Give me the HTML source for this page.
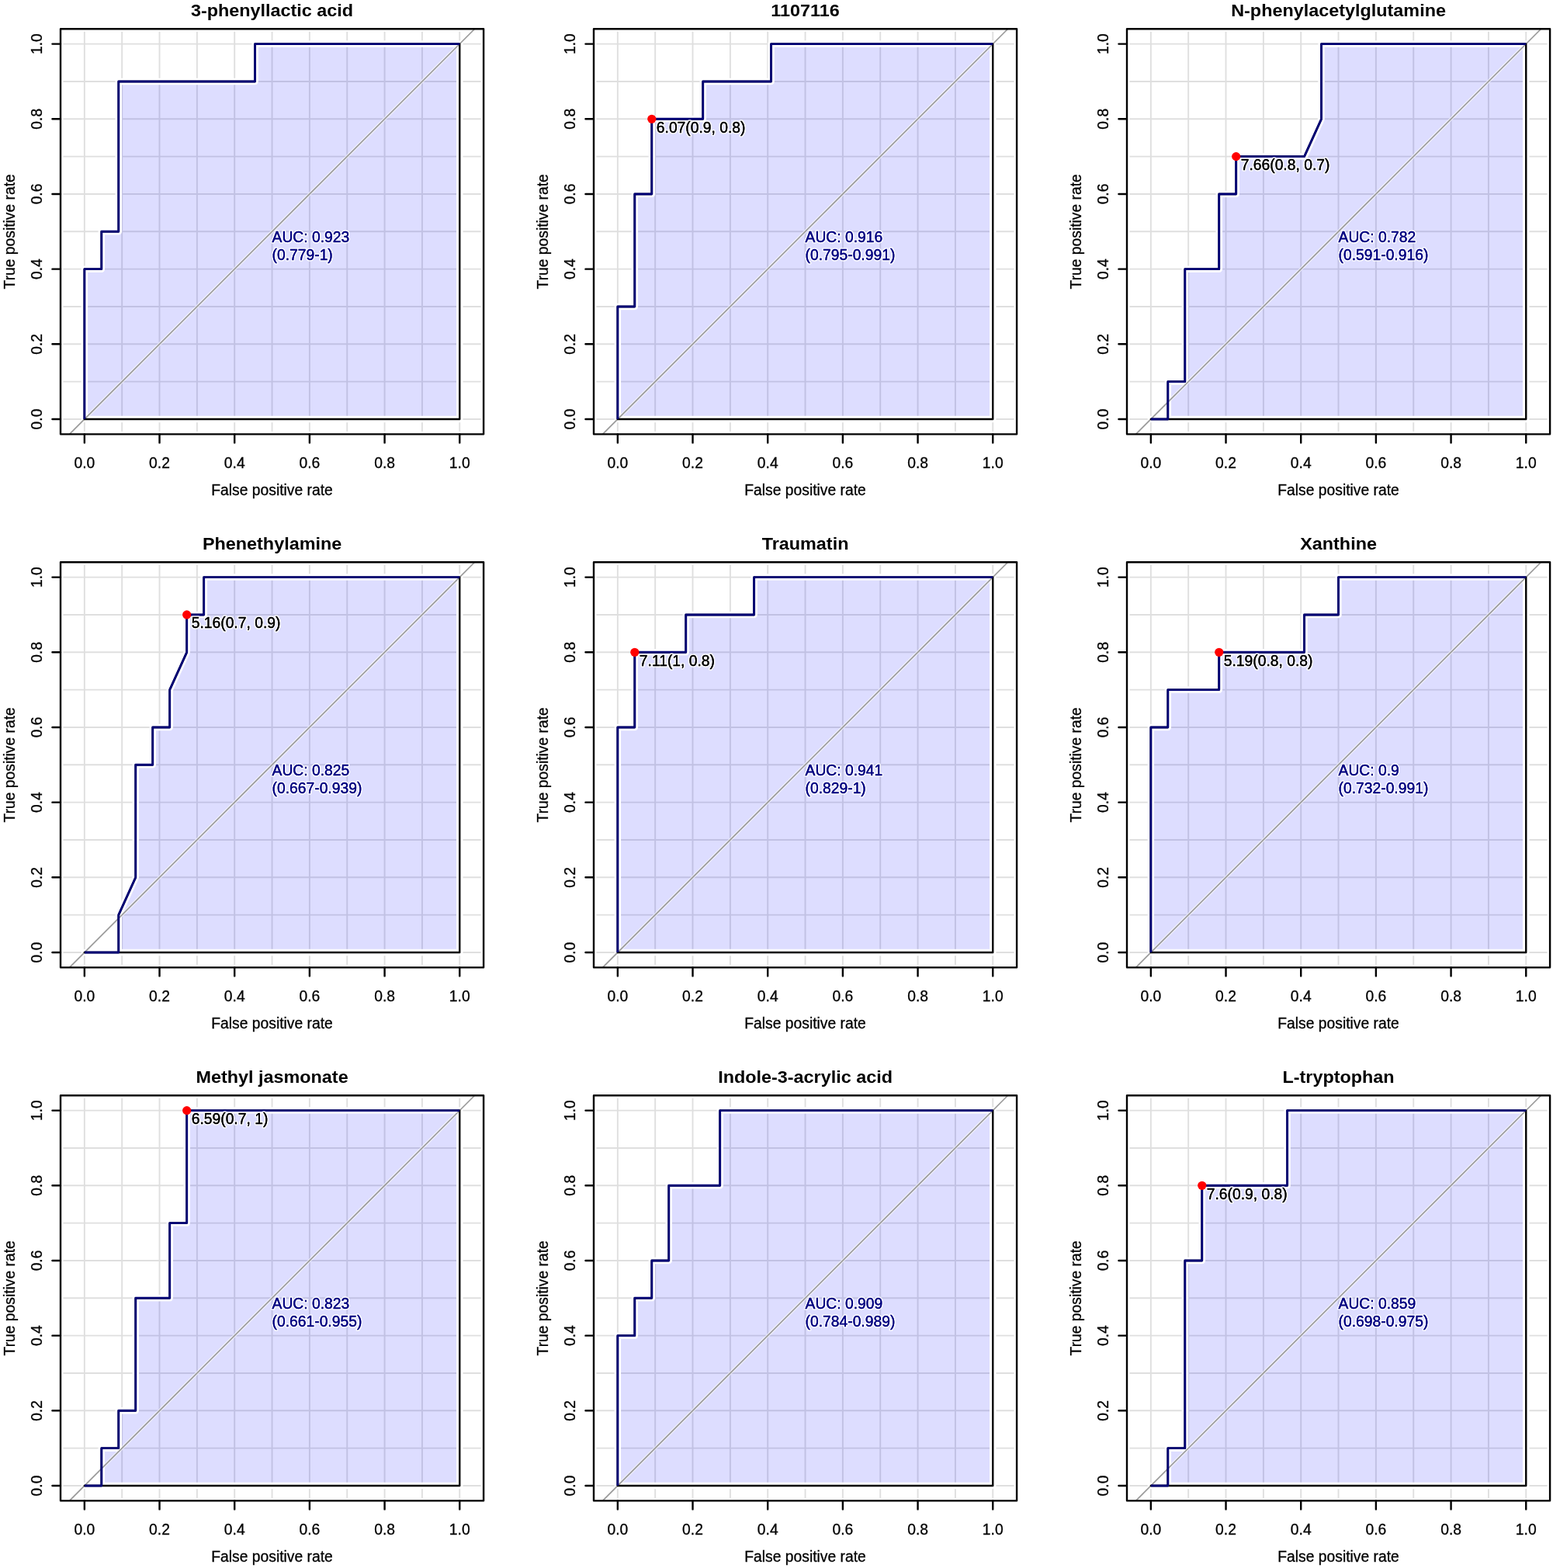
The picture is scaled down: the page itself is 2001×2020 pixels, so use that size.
<!DOCTYPE html><html><head><meta charset="utf-8"><title>ROC curves</title><style>html,body{margin:0;padding:0;background:#fff;}svg{display:block;}text{font-family:"Liberation Sans",Arial,sans-serif;stroke:#000;stroke-width:0.3px;}.n{fill:#000080;stroke:#000080;}.h{paint-order:stroke;stroke:rgba(255,255,255,0.85);stroke-width:3.5px;stroke-linejoin:round;}</style></head><body>
<svg width="2001" height="2020" viewBox="0 0 2001 2020">
<rect width="2001" height="2020" fill="#fff"/>
<g>
<path d="M108.85 37.26V559.34M78.01 540H623.09M157.19 37.26V559.34M78.01 491.66H623.09M205.53 37.26V559.34M78.01 443.32H623.09M253.87 37.26V559.34M78.01 394.98H623.09M302.21 37.26V559.34M78.01 346.64H623.09M350.55 37.26V559.34M78.01 298.3H623.09M398.89 37.26V559.34M78.01 249.96H623.09M447.23 37.26V559.34M78.01 201.62H623.09M495.57 37.26V559.34M78.01 153.28H623.09M543.91 37.26V559.34M78.01 104.94H623.09M592.25 37.26V559.34M78.01 56.6H623.09" stroke="#dfdfdf" stroke-width="1.9" fill="none"/>
<path d="M108.85 540 L108.85 346.64 L130.82 346.64 L130.82 298.3 L152.8 298.3 L152.8 104.94 L328.58 104.94 L328.58 56.6 L592.25 56.6 L592.25 540Z" fill="rgba(0,0,255,0.135)" stroke="none"/>
<path d="M108.85 540 L108.85 346.64 L130.82 346.64 L130.82 298.3 L152.8 298.3 L152.8 104.94 L328.58 104.94 L328.58 56.6 L592.25 56.6 L592.25 540Z" fill="none" stroke="#fff" stroke-width="8.5" stroke-linejoin="round"/>
<rect x="78.01" y="37.26" width="545.08" height="522.07" fill="none" stroke="#fff" stroke-width="7"/>
<line x1="89.51" y1="559.34" x2="611.59" y2="37.26" stroke="#fff" stroke-width="4" opacity="0.6"/>
<line x1="89.51" y1="559.34" x2="611.59" y2="37.26" stroke="#999" stroke-width="1.7"/>
<path d="M108.85 540 L108.85 346.64 L130.82 346.64 L130.82 298.3 L152.8 298.3 L152.8 104.94 L328.58 104.94 L328.58 56.6 L592.25 56.6 L592.25 540Z" fill="none" stroke="#000" stroke-width="2.4" stroke-linejoin="round"/>
<path d="M108.85 540 L108.85 346.64 L130.82 346.64 L130.82 298.3 L152.8 298.3 L152.8 104.94 L328.58 104.94 L328.58 56.6 L592.25 56.6" fill="none" stroke="#000074" stroke-width="2.9" stroke-linejoin="round"/>
<rect x="78.01" y="37.26" width="545.08" height="522.07" fill="none" stroke="#000" stroke-width="2.4" stroke-linejoin="round"/>
<path d="M108.85 559.34V570.4M78.01 540H67.45M205.53 559.34V570.4M78.01 443.32H67.45M302.21 559.34V570.4M78.01 346.64H67.45M398.89 559.34V570.4M78.01 249.96H67.45M495.57 559.34V570.4M78.01 153.28H67.45M592.25 559.34V570.4M78.01 56.6H67.45" stroke="#000" stroke-width="2.4" fill="none" stroke-linecap="round"/>
<text x="108.85" y="602.9" font-size="19.3" text-anchor="middle">0.0</text>
<text transform="translate(53.5 540) rotate(-90)" font-size="19.3" text-anchor="middle">0.0</text>
<text x="205.53" y="602.9" font-size="19.3" text-anchor="middle">0.2</text>
<text transform="translate(53.5 443.32) rotate(-90)" font-size="19.3" text-anchor="middle">0.2</text>
<text x="302.21" y="602.9" font-size="19.3" text-anchor="middle">0.4</text>
<text transform="translate(53.5 346.64) rotate(-90)" font-size="19.3" text-anchor="middle">0.4</text>
<text x="398.89" y="602.9" font-size="19.3" text-anchor="middle">0.6</text>
<text transform="translate(53.5 249.96) rotate(-90)" font-size="19.3" text-anchor="middle">0.6</text>
<text x="495.57" y="602.9" font-size="19.3" text-anchor="middle">0.8</text>
<text transform="translate(53.5 153.28) rotate(-90)" font-size="19.3" text-anchor="middle">0.8</text>
<text x="592.25" y="602.9" font-size="19.3" text-anchor="middle">1.0</text>
<text transform="translate(53.5 56.6) rotate(-90)" font-size="19.3" text-anchor="middle">1.0</text>
<text x="350.55" y="637.5" font-size="19.3" text-anchor="middle">False positive rate</text>
<text transform="translate(19.1 298.3) rotate(-90)" font-size="19.3" text-anchor="middle">True positive rate</text>
<text transform="translate(350.55 21.1) scale(1 0.93)" font-size="23.4" font-weight="bold" text-anchor="middle" style="stroke-width:0">3-phenyllactic acid</text>
<text class="h" x="350.55" y="312" font-size="19.3" fill="#000080">AUC: 0.923</text>
<text class="n" x="350.55" y="312" font-size="19.3">AUC: 0.923</text>
<text class="h" x="350.55" y="334.8" font-size="19.3" fill="#000080">(0.779-1)</text>
<text class="n" x="350.55" y="334.8" font-size="19.3">(0.779-1)</text>
</g>
<g>
<path d="M795.85 37.26V559.34M765.01 540H1310.09M844.19 37.26V559.34M765.01 491.66H1310.09M892.53 37.26V559.34M765.01 443.32H1310.09M940.87 37.26V559.34M765.01 394.98H1310.09M989.21 37.26V559.34M765.01 346.64H1310.09M1037.55 37.26V559.34M765.01 298.3H1310.09M1085.89 37.26V559.34M765.01 249.96H1310.09M1134.23 37.26V559.34M765.01 201.62H1310.09M1182.57 37.26V559.34M765.01 153.28H1310.09M1230.91 37.26V559.34M765.01 104.94H1310.09M1279.25 37.26V559.34M765.01 56.6H1310.09" stroke="#dfdfdf" stroke-width="1.9" fill="none"/>
<path d="M795.85 540 L795.85 394.98 L817.82 394.98 L817.82 249.96 L839.8 249.96 L839.8 153.28 L905.71 153.28 L905.71 104.94 L993.6 104.94 L993.6 56.6 L1279.25 56.6 L1279.25 540Z" fill="rgba(0,0,255,0.135)" stroke="none"/>
<path d="M795.85 540 L795.85 394.98 L817.82 394.98 L817.82 249.96 L839.8 249.96 L839.8 153.28 L905.71 153.28 L905.71 104.94 L993.6 104.94 L993.6 56.6 L1279.25 56.6 L1279.25 540Z" fill="none" stroke="#fff" stroke-width="8.5" stroke-linejoin="round"/>
<rect x="765.01" y="37.26" width="545.08" height="522.07" fill="none" stroke="#fff" stroke-width="7"/>
<line x1="776.51" y1="559.34" x2="1298.59" y2="37.26" stroke="#fff" stroke-width="4" opacity="0.6"/>
<line x1="776.51" y1="559.34" x2="1298.59" y2="37.26" stroke="#999" stroke-width="1.7"/>
<path d="M795.85 540 L795.85 394.98 L817.82 394.98 L817.82 249.96 L839.8 249.96 L839.8 153.28 L905.71 153.28 L905.71 104.94 L993.6 104.94 L993.6 56.6 L1279.25 56.6 L1279.25 540Z" fill="none" stroke="#000" stroke-width="2.4" stroke-linejoin="round"/>
<path d="M795.85 540 L795.85 394.98 L817.82 394.98 L817.82 249.96 L839.8 249.96 L839.8 153.28 L905.71 153.28 L905.71 104.94 L993.6 104.94 L993.6 56.6 L1279.25 56.6" fill="none" stroke="#000074" stroke-width="2.9" stroke-linejoin="round"/>
<rect x="765.01" y="37.26" width="545.08" height="522.07" fill="none" stroke="#000" stroke-width="2.4" stroke-linejoin="round"/>
<path d="M795.85 559.34V570.4M765.01 540H754.45M892.53 559.34V570.4M765.01 443.32H754.45M989.21 559.34V570.4M765.01 346.64H754.45M1085.89 559.34V570.4M765.01 249.96H754.45M1182.57 559.34V570.4M765.01 153.28H754.45M1279.25 559.34V570.4M765.01 56.6H754.45" stroke="#000" stroke-width="2.4" fill="none" stroke-linecap="round"/>
<text x="795.85" y="602.9" font-size="19.3" text-anchor="middle">0.0</text>
<text transform="translate(740.5 540) rotate(-90)" font-size="19.3" text-anchor="middle">0.0</text>
<text x="892.53" y="602.9" font-size="19.3" text-anchor="middle">0.2</text>
<text transform="translate(740.5 443.32) rotate(-90)" font-size="19.3" text-anchor="middle">0.2</text>
<text x="989.21" y="602.9" font-size="19.3" text-anchor="middle">0.4</text>
<text transform="translate(740.5 346.64) rotate(-90)" font-size="19.3" text-anchor="middle">0.4</text>
<text x="1085.89" y="602.9" font-size="19.3" text-anchor="middle">0.6</text>
<text transform="translate(740.5 249.96) rotate(-90)" font-size="19.3" text-anchor="middle">0.6</text>
<text x="1182.57" y="602.9" font-size="19.3" text-anchor="middle">0.8</text>
<text transform="translate(740.5 153.28) rotate(-90)" font-size="19.3" text-anchor="middle">0.8</text>
<text x="1279.25" y="602.9" font-size="19.3" text-anchor="middle">1.0</text>
<text transform="translate(740.5 56.6) rotate(-90)" font-size="19.3" text-anchor="middle">1.0</text>
<text x="1037.55" y="637.5" font-size="19.3" text-anchor="middle">False positive rate</text>
<text transform="translate(706.1 298.3) rotate(-90)" font-size="19.3" text-anchor="middle">True positive rate</text>
<text transform="translate(1037.55 21.1) scale(1 0.93)" font-size="23.4" font-weight="bold" text-anchor="middle" style="stroke-width:0">1107116</text>
<text class="h" x="1037.55" y="312" font-size="19.3" fill="#000080">AUC: 0.916</text>
<text class="n" x="1037.55" y="312" font-size="19.3">AUC: 0.916</text>
<text class="h" x="1037.55" y="334.8" font-size="19.3" fill="#000080">(0.795-0.991)</text>
<text class="n" x="1037.55" y="334.8" font-size="19.3">(0.795-0.991)</text>
<circle cx="839.8" cy="153.28" r="5.6" fill="#f00"/>
<text class="h" x="845.8" y="170.68" font-size="19.3">6.07(0.9, 0.8)</text>
<text x="845.8" y="170.68" font-size="19.3">6.07(0.9, 0.8)</text>
</g>
<g>
<path d="M1482.85 37.26V559.34M1452.01 540H1997.09M1531.19 37.26V559.34M1452.01 491.66H1997.09M1579.53 37.26V559.34M1452.01 443.32H1997.09M1627.87 37.26V559.34M1452.01 394.98H1997.09M1676.21 37.26V559.34M1452.01 346.64H1997.09M1724.55 37.26V559.34M1452.01 298.3H1997.09M1772.89 37.26V559.34M1452.01 249.96H1997.09M1821.23 37.26V559.34M1452.01 201.62H1997.09M1869.57 37.26V559.34M1452.01 153.28H1997.09M1917.91 37.26V559.34M1452.01 104.94H1997.09M1966.25 37.26V559.34M1452.01 56.6H1997.09" stroke="#dfdfdf" stroke-width="1.9" fill="none"/>
<path d="M1482.85 540 L1504.82 540 L1504.82 491.66 L1526.8 491.66 L1526.8 346.64 L1570.74 346.64 L1570.74 249.96 L1592.71 249.96 L1592.71 201.62 L1680.6 201.62 L1702.58 153.28 L1702.58 56.6 L1966.25 56.6 L1966.25 540Z" fill="rgba(0,0,255,0.135)" stroke="none"/>
<path d="M1482.85 540 L1504.82 540 L1504.82 491.66 L1526.8 491.66 L1526.8 346.64 L1570.74 346.64 L1570.74 249.96 L1592.71 249.96 L1592.71 201.62 L1680.6 201.62 L1702.58 153.28 L1702.58 56.6 L1966.25 56.6 L1966.25 540Z" fill="none" stroke="#fff" stroke-width="8.5" stroke-linejoin="round"/>
<rect x="1452.01" y="37.26" width="545.08" height="522.07" fill="none" stroke="#fff" stroke-width="7"/>
<line x1="1463.51" y1="559.34" x2="1985.59" y2="37.26" stroke="#fff" stroke-width="4" opacity="0.6"/>
<line x1="1463.51" y1="559.34" x2="1985.59" y2="37.26" stroke="#999" stroke-width="1.7"/>
<path d="M1482.85 540 L1504.82 540 L1504.82 491.66 L1526.8 491.66 L1526.8 346.64 L1570.74 346.64 L1570.74 249.96 L1592.71 249.96 L1592.71 201.62 L1680.6 201.62 L1702.58 153.28 L1702.58 56.6 L1966.25 56.6 L1966.25 540Z" fill="none" stroke="#000" stroke-width="2.4" stroke-linejoin="round"/>
<path d="M1482.85 540 L1504.82 540 L1504.82 491.66 L1526.8 491.66 L1526.8 346.64 L1570.74 346.64 L1570.74 249.96 L1592.71 249.96 L1592.71 201.62 L1680.6 201.62 L1702.58 153.28 L1702.58 56.6 L1966.25 56.6" fill="none" stroke="#000074" stroke-width="2.9" stroke-linejoin="round"/>
<rect x="1452.01" y="37.26" width="545.08" height="522.07" fill="none" stroke="#000" stroke-width="2.4" stroke-linejoin="round"/>
<path d="M1482.85 559.34V570.4M1452.01 540H1441.45M1579.53 559.34V570.4M1452.01 443.32H1441.45M1676.21 559.34V570.4M1452.01 346.64H1441.45M1772.89 559.34V570.4M1452.01 249.96H1441.45M1869.57 559.34V570.4M1452.01 153.28H1441.45M1966.25 559.34V570.4M1452.01 56.6H1441.45" stroke="#000" stroke-width="2.4" fill="none" stroke-linecap="round"/>
<text x="1482.85" y="602.9" font-size="19.3" text-anchor="middle">0.0</text>
<text transform="translate(1427.5 540) rotate(-90)" font-size="19.3" text-anchor="middle">0.0</text>
<text x="1579.53" y="602.9" font-size="19.3" text-anchor="middle">0.2</text>
<text transform="translate(1427.5 443.32) rotate(-90)" font-size="19.3" text-anchor="middle">0.2</text>
<text x="1676.21" y="602.9" font-size="19.3" text-anchor="middle">0.4</text>
<text transform="translate(1427.5 346.64) rotate(-90)" font-size="19.3" text-anchor="middle">0.4</text>
<text x="1772.89" y="602.9" font-size="19.3" text-anchor="middle">0.6</text>
<text transform="translate(1427.5 249.96) rotate(-90)" font-size="19.3" text-anchor="middle">0.6</text>
<text x="1869.57" y="602.9" font-size="19.3" text-anchor="middle">0.8</text>
<text transform="translate(1427.5 153.28) rotate(-90)" font-size="19.3" text-anchor="middle">0.8</text>
<text x="1966.25" y="602.9" font-size="19.3" text-anchor="middle">1.0</text>
<text transform="translate(1427.5 56.6) rotate(-90)" font-size="19.3" text-anchor="middle">1.0</text>
<text x="1724.55" y="637.5" font-size="19.3" text-anchor="middle">False positive rate</text>
<text transform="translate(1393.1 298.3) rotate(-90)" font-size="19.3" text-anchor="middle">True positive rate</text>
<text transform="translate(1724.55 21.1) scale(1 0.93)" font-size="23.4" font-weight="bold" text-anchor="middle" style="stroke-width:0">N-phenylacetylglutamine</text>
<text class="h" x="1724.55" y="312" font-size="19.3" fill="#000080">AUC: 0.782</text>
<text class="n" x="1724.55" y="312" font-size="19.3">AUC: 0.782</text>
<text class="h" x="1724.55" y="334.8" font-size="19.3" fill="#000080">(0.591-0.916)</text>
<text class="n" x="1724.55" y="334.8" font-size="19.3">(0.591-0.916)</text>
<circle cx="1592.71" cy="201.62" r="5.6" fill="#f00"/>
<text class="h" x="1598.71" y="219.02" font-size="19.3">7.66(0.8, 0.7)</text>
<text x="1598.71" y="219.02" font-size="19.3">7.66(0.8, 0.7)</text>
</g>
<g>
<path d="M108.85 724.26V1246.34M78.01 1227H623.09M157.19 724.26V1246.34M78.01 1178.66H623.09M205.53 724.26V1246.34M78.01 1130.32H623.09M253.87 724.26V1246.34M78.01 1081.98H623.09M302.21 724.26V1246.34M78.01 1033.64H623.09M350.55 724.26V1246.34M78.01 985.3H623.09M398.89 724.26V1246.34M78.01 936.96H623.09M447.23 724.26V1246.34M78.01 888.62H623.09M495.57 724.26V1246.34M78.01 840.28H623.09M543.91 724.26V1246.34M78.01 791.94H623.09M592.25 724.26V1246.34M78.01 743.6H623.09" stroke="#dfdfdf" stroke-width="1.9" fill="none"/>
<path d="M108.85 1227 L152.8 1227 L152.8 1178.66 L174.77 1130.32 L174.77 985.3 L196.74 985.3 L196.74 936.96 L218.71 936.96 L218.71 888.62 L240.69 840.28 L240.69 791.94 L262.66 791.94 L262.66 743.6 L592.25 743.6 L592.25 1227Z" fill="rgba(0,0,255,0.135)" stroke="none"/>
<path d="M108.85 1227 L152.8 1227 L152.8 1178.66 L174.77 1130.32 L174.77 985.3 L196.74 985.3 L196.74 936.96 L218.71 936.96 L218.71 888.62 L240.69 840.28 L240.69 791.94 L262.66 791.94 L262.66 743.6 L592.25 743.6 L592.25 1227Z" fill="none" stroke="#fff" stroke-width="8.5" stroke-linejoin="round"/>
<rect x="78.01" y="724.26" width="545.08" height="522.07" fill="none" stroke="#fff" stroke-width="7"/>
<line x1="89.51" y1="1246.34" x2="611.59" y2="724.26" stroke="#fff" stroke-width="4" opacity="0.6"/>
<line x1="89.51" y1="1246.34" x2="611.59" y2="724.26" stroke="#999" stroke-width="1.7"/>
<path d="M108.85 1227 L152.8 1227 L152.8 1178.66 L174.77 1130.32 L174.77 985.3 L196.74 985.3 L196.74 936.96 L218.71 936.96 L218.71 888.62 L240.69 840.28 L240.69 791.94 L262.66 791.94 L262.66 743.6 L592.25 743.6 L592.25 1227Z" fill="none" stroke="#000" stroke-width="2.4" stroke-linejoin="round"/>
<path d="M108.85 1227 L152.8 1227 L152.8 1178.66 L174.77 1130.32 L174.77 985.3 L196.74 985.3 L196.74 936.96 L218.71 936.96 L218.71 888.62 L240.69 840.28 L240.69 791.94 L262.66 791.94 L262.66 743.6 L592.25 743.6" fill="none" stroke="#000074" stroke-width="2.9" stroke-linejoin="round"/>
<rect x="78.01" y="724.26" width="545.08" height="522.07" fill="none" stroke="#000" stroke-width="2.4" stroke-linejoin="round"/>
<path d="M108.85 1246.34V1257.4M78.01 1227H67.45M205.53 1246.34V1257.4M78.01 1130.32H67.45M302.21 1246.34V1257.4M78.01 1033.64H67.45M398.89 1246.34V1257.4M78.01 936.96H67.45M495.57 1246.34V1257.4M78.01 840.28H67.45M592.25 1246.34V1257.4M78.01 743.6H67.45" stroke="#000" stroke-width="2.4" fill="none" stroke-linecap="round"/>
<text x="108.85" y="1289.9" font-size="19.3" text-anchor="middle">0.0</text>
<text transform="translate(53.5 1227) rotate(-90)" font-size="19.3" text-anchor="middle">0.0</text>
<text x="205.53" y="1289.9" font-size="19.3" text-anchor="middle">0.2</text>
<text transform="translate(53.5 1130.32) rotate(-90)" font-size="19.3" text-anchor="middle">0.2</text>
<text x="302.21" y="1289.9" font-size="19.3" text-anchor="middle">0.4</text>
<text transform="translate(53.5 1033.64) rotate(-90)" font-size="19.3" text-anchor="middle">0.4</text>
<text x="398.89" y="1289.9" font-size="19.3" text-anchor="middle">0.6</text>
<text transform="translate(53.5 936.96) rotate(-90)" font-size="19.3" text-anchor="middle">0.6</text>
<text x="495.57" y="1289.9" font-size="19.3" text-anchor="middle">0.8</text>
<text transform="translate(53.5 840.28) rotate(-90)" font-size="19.3" text-anchor="middle">0.8</text>
<text x="592.25" y="1289.9" font-size="19.3" text-anchor="middle">1.0</text>
<text transform="translate(53.5 743.6) rotate(-90)" font-size="19.3" text-anchor="middle">1.0</text>
<text x="350.55" y="1324.5" font-size="19.3" text-anchor="middle">False positive rate</text>
<text transform="translate(19.1 985.3) rotate(-90)" font-size="19.3" text-anchor="middle">True positive rate</text>
<text transform="translate(350.55 708.1) scale(1 0.93)" font-size="23.4" font-weight="bold" text-anchor="middle" style="stroke-width:0">Phenethylamine</text>
<text class="h" x="350.55" y="999" font-size="19.3" fill="#000080">AUC: 0.825</text>
<text class="n" x="350.55" y="999" font-size="19.3">AUC: 0.825</text>
<text class="h" x="350.55" y="1021.8" font-size="19.3" fill="#000080">(0.667-0.939)</text>
<text class="n" x="350.55" y="1021.8" font-size="19.3">(0.667-0.939)</text>
<circle cx="240.69" cy="791.94" r="5.6" fill="#f00"/>
<text class="h" x="246.69" y="809.34" font-size="19.3">5.16(0.7, 0.9)</text>
<text x="246.69" y="809.34" font-size="19.3">5.16(0.7, 0.9)</text>
</g>
<g>
<path d="M795.85 724.26V1246.34M765.01 1227H1310.09M844.19 724.26V1246.34M765.01 1178.66H1310.09M892.53 724.26V1246.34M765.01 1130.32H1310.09M940.87 724.26V1246.34M765.01 1081.98H1310.09M989.21 724.26V1246.34M765.01 1033.64H1310.09M1037.55 724.26V1246.34M765.01 985.3H1310.09M1085.89 724.26V1246.34M765.01 936.96H1310.09M1134.23 724.26V1246.34M765.01 888.62H1310.09M1182.57 724.26V1246.34M765.01 840.28H1310.09M1230.91 724.26V1246.34M765.01 791.94H1310.09M1279.25 724.26V1246.34M765.01 743.6H1310.09" stroke="#dfdfdf" stroke-width="1.9" fill="none"/>
<path d="M795.85 1227 L795.85 936.96 L817.82 936.96 L817.82 840.28 L883.74 840.28 L883.74 791.94 L971.63 791.94 L971.63 743.6 L1279.25 743.6 L1279.25 1227Z" fill="rgba(0,0,255,0.135)" stroke="none"/>
<path d="M795.85 1227 L795.85 936.96 L817.82 936.96 L817.82 840.28 L883.74 840.28 L883.74 791.94 L971.63 791.94 L971.63 743.6 L1279.25 743.6 L1279.25 1227Z" fill="none" stroke="#fff" stroke-width="8.5" stroke-linejoin="round"/>
<rect x="765.01" y="724.26" width="545.08" height="522.07" fill="none" stroke="#fff" stroke-width="7"/>
<line x1="776.51" y1="1246.34" x2="1298.59" y2="724.26" stroke="#fff" stroke-width="4" opacity="0.6"/>
<line x1="776.51" y1="1246.34" x2="1298.59" y2="724.26" stroke="#999" stroke-width="1.7"/>
<path d="M795.85 1227 L795.85 936.96 L817.82 936.96 L817.82 840.28 L883.74 840.28 L883.74 791.94 L971.63 791.94 L971.63 743.6 L1279.25 743.6 L1279.25 1227Z" fill="none" stroke="#000" stroke-width="2.4" stroke-linejoin="round"/>
<path d="M795.85 1227 L795.85 936.96 L817.82 936.96 L817.82 840.28 L883.74 840.28 L883.74 791.94 L971.63 791.94 L971.63 743.6 L1279.25 743.6" fill="none" stroke="#000074" stroke-width="2.9" stroke-linejoin="round"/>
<rect x="765.01" y="724.26" width="545.08" height="522.07" fill="none" stroke="#000" stroke-width="2.4" stroke-linejoin="round"/>
<path d="M795.85 1246.34V1257.4M765.01 1227H754.45M892.53 1246.34V1257.4M765.01 1130.32H754.45M989.21 1246.34V1257.4M765.01 1033.64H754.45M1085.89 1246.34V1257.4M765.01 936.96H754.45M1182.57 1246.34V1257.4M765.01 840.28H754.45M1279.25 1246.34V1257.4M765.01 743.6H754.45" stroke="#000" stroke-width="2.4" fill="none" stroke-linecap="round"/>
<text x="795.85" y="1289.9" font-size="19.3" text-anchor="middle">0.0</text>
<text transform="translate(740.5 1227) rotate(-90)" font-size="19.3" text-anchor="middle">0.0</text>
<text x="892.53" y="1289.9" font-size="19.3" text-anchor="middle">0.2</text>
<text transform="translate(740.5 1130.32) rotate(-90)" font-size="19.3" text-anchor="middle">0.2</text>
<text x="989.21" y="1289.9" font-size="19.3" text-anchor="middle">0.4</text>
<text transform="translate(740.5 1033.64) rotate(-90)" font-size="19.3" text-anchor="middle">0.4</text>
<text x="1085.89" y="1289.9" font-size="19.3" text-anchor="middle">0.6</text>
<text transform="translate(740.5 936.96) rotate(-90)" font-size="19.3" text-anchor="middle">0.6</text>
<text x="1182.57" y="1289.9" font-size="19.3" text-anchor="middle">0.8</text>
<text transform="translate(740.5 840.28) rotate(-90)" font-size="19.3" text-anchor="middle">0.8</text>
<text x="1279.25" y="1289.9" font-size="19.3" text-anchor="middle">1.0</text>
<text transform="translate(740.5 743.6) rotate(-90)" font-size="19.3" text-anchor="middle">1.0</text>
<text x="1037.55" y="1324.5" font-size="19.3" text-anchor="middle">False positive rate</text>
<text transform="translate(706.1 985.3) rotate(-90)" font-size="19.3" text-anchor="middle">True positive rate</text>
<text transform="translate(1037.55 708.1) scale(1 0.93)" font-size="23.4" font-weight="bold" text-anchor="middle" style="stroke-width:0">Traumatin</text>
<text class="h" x="1037.55" y="999" font-size="19.3" fill="#000080">AUC: 0.941</text>
<text class="n" x="1037.55" y="999" font-size="19.3">AUC: 0.941</text>
<text class="h" x="1037.55" y="1021.8" font-size="19.3" fill="#000080">(0.829-1)</text>
<text class="n" x="1037.55" y="1021.8" font-size="19.3">(0.829-1)</text>
<circle cx="817.82" cy="840.28" r="5.6" fill="#f00"/>
<text class="h" x="823.82" y="857.68" font-size="19.3">7.11(1, 0.8)</text>
<text x="823.82" y="857.68" font-size="19.3">7.11(1, 0.8)</text>
</g>
<g>
<path d="M1482.85 724.26V1246.34M1452.01 1227H1997.09M1531.19 724.26V1246.34M1452.01 1178.66H1997.09M1579.53 724.26V1246.34M1452.01 1130.32H1997.09M1627.87 724.26V1246.34M1452.01 1081.98H1997.09M1676.21 724.26V1246.34M1452.01 1033.64H1997.09M1724.55 724.26V1246.34M1452.01 985.3H1997.09M1772.89 724.26V1246.34M1452.01 936.96H1997.09M1821.23 724.26V1246.34M1452.01 888.62H1997.09M1869.57 724.26V1246.34M1452.01 840.28H1997.09M1917.91 724.26V1246.34M1452.01 791.94H1997.09M1966.25 724.26V1246.34M1452.01 743.6H1997.09" stroke="#dfdfdf" stroke-width="1.9" fill="none"/>
<path d="M1482.85 1227 L1482.85 936.96 L1504.82 936.96 L1504.82 888.62 L1570.74 888.62 L1570.74 840.28 L1680.6 840.28 L1680.6 791.94 L1724.55 791.94 L1724.55 743.6 L1966.25 743.6 L1966.25 1227Z" fill="rgba(0,0,255,0.135)" stroke="none"/>
<path d="M1482.85 1227 L1482.85 936.96 L1504.82 936.96 L1504.82 888.62 L1570.74 888.62 L1570.74 840.28 L1680.6 840.28 L1680.6 791.94 L1724.55 791.94 L1724.55 743.6 L1966.25 743.6 L1966.25 1227Z" fill="none" stroke="#fff" stroke-width="8.5" stroke-linejoin="round"/>
<rect x="1452.01" y="724.26" width="545.08" height="522.07" fill="none" stroke="#fff" stroke-width="7"/>
<line x1="1463.51" y1="1246.34" x2="1985.59" y2="724.26" stroke="#fff" stroke-width="4" opacity="0.6"/>
<line x1="1463.51" y1="1246.34" x2="1985.59" y2="724.26" stroke="#999" stroke-width="1.7"/>
<path d="M1482.85 1227 L1482.85 936.96 L1504.82 936.96 L1504.82 888.62 L1570.74 888.62 L1570.74 840.28 L1680.6 840.28 L1680.6 791.94 L1724.55 791.94 L1724.55 743.6 L1966.25 743.6 L1966.25 1227Z" fill="none" stroke="#000" stroke-width="2.4" stroke-linejoin="round"/>
<path d="M1482.85 1227 L1482.85 936.96 L1504.82 936.96 L1504.82 888.62 L1570.74 888.62 L1570.74 840.28 L1680.6 840.28 L1680.6 791.94 L1724.55 791.94 L1724.55 743.6 L1966.25 743.6" fill="none" stroke="#000074" stroke-width="2.9" stroke-linejoin="round"/>
<rect x="1452.01" y="724.26" width="545.08" height="522.07" fill="none" stroke="#000" stroke-width="2.4" stroke-linejoin="round"/>
<path d="M1482.85 1246.34V1257.4M1452.01 1227H1441.45M1579.53 1246.34V1257.4M1452.01 1130.32H1441.45M1676.21 1246.34V1257.4M1452.01 1033.64H1441.45M1772.89 1246.34V1257.4M1452.01 936.96H1441.45M1869.57 1246.34V1257.4M1452.01 840.28H1441.45M1966.25 1246.34V1257.4M1452.01 743.6H1441.45" stroke="#000" stroke-width="2.4" fill="none" stroke-linecap="round"/>
<text x="1482.85" y="1289.9" font-size="19.3" text-anchor="middle">0.0</text>
<text transform="translate(1427.5 1227) rotate(-90)" font-size="19.3" text-anchor="middle">0.0</text>
<text x="1579.53" y="1289.9" font-size="19.3" text-anchor="middle">0.2</text>
<text transform="translate(1427.5 1130.32) rotate(-90)" font-size="19.3" text-anchor="middle">0.2</text>
<text x="1676.21" y="1289.9" font-size="19.3" text-anchor="middle">0.4</text>
<text transform="translate(1427.5 1033.64) rotate(-90)" font-size="19.3" text-anchor="middle">0.4</text>
<text x="1772.89" y="1289.9" font-size="19.3" text-anchor="middle">0.6</text>
<text transform="translate(1427.5 936.96) rotate(-90)" font-size="19.3" text-anchor="middle">0.6</text>
<text x="1869.57" y="1289.9" font-size="19.3" text-anchor="middle">0.8</text>
<text transform="translate(1427.5 840.28) rotate(-90)" font-size="19.3" text-anchor="middle">0.8</text>
<text x="1966.25" y="1289.9" font-size="19.3" text-anchor="middle">1.0</text>
<text transform="translate(1427.5 743.6) rotate(-90)" font-size="19.3" text-anchor="middle">1.0</text>
<text x="1724.55" y="1324.5" font-size="19.3" text-anchor="middle">False positive rate</text>
<text transform="translate(1393.1 985.3) rotate(-90)" font-size="19.3" text-anchor="middle">True positive rate</text>
<text transform="translate(1724.55 708.1) scale(1 0.93)" font-size="23.4" font-weight="bold" text-anchor="middle" style="stroke-width:0">Xanthine</text>
<text class="h" x="1724.55" y="999" font-size="19.3" fill="#000080">AUC: 0.9</text>
<text class="n" x="1724.55" y="999" font-size="19.3">AUC: 0.9</text>
<text class="h" x="1724.55" y="1021.8" font-size="19.3" fill="#000080">(0.732-0.991)</text>
<text class="n" x="1724.55" y="1021.8" font-size="19.3">(0.732-0.991)</text>
<circle cx="1570.74" cy="840.28" r="5.6" fill="#f00"/>
<text class="h" x="1576.74" y="857.68" font-size="19.3">5.19(0.8, 0.8)</text>
<text x="1576.74" y="857.68" font-size="19.3">5.19(0.8, 0.8)</text>
</g>
<g>
<path d="M108.85 1411.26V1933.34M78.01 1914H623.09M157.19 1411.26V1933.34M78.01 1865.66H623.09M205.53 1411.26V1933.34M78.01 1817.32H623.09M253.87 1411.26V1933.34M78.01 1768.98H623.09M302.21 1411.26V1933.34M78.01 1720.64H623.09M350.55 1411.26V1933.34M78.01 1672.3H623.09M398.89 1411.26V1933.34M78.01 1623.96H623.09M447.23 1411.26V1933.34M78.01 1575.62H623.09M495.57 1411.26V1933.34M78.01 1527.28H623.09M543.91 1411.26V1933.34M78.01 1478.94H623.09M592.25 1411.26V1933.34M78.01 1430.6H623.09" stroke="#dfdfdf" stroke-width="1.9" fill="none"/>
<path d="M108.85 1914 L130.82 1914 L130.82 1865.66 L152.8 1865.66 L152.8 1817.32 L174.77 1817.32 L174.77 1672.3 L218.71 1672.3 L218.71 1575.62 L240.69 1575.62 L240.69 1430.6 L592.25 1430.6 L592.25 1914Z" fill="rgba(0,0,255,0.135)" stroke="none"/>
<path d="M108.85 1914 L130.82 1914 L130.82 1865.66 L152.8 1865.66 L152.8 1817.32 L174.77 1817.32 L174.77 1672.3 L218.71 1672.3 L218.71 1575.62 L240.69 1575.62 L240.69 1430.6 L592.25 1430.6 L592.25 1914Z" fill="none" stroke="#fff" stroke-width="8.5" stroke-linejoin="round"/>
<rect x="78.01" y="1411.26" width="545.08" height="522.07" fill="none" stroke="#fff" stroke-width="7"/>
<line x1="89.51" y1="1933.34" x2="611.59" y2="1411.26" stroke="#fff" stroke-width="4" opacity="0.6"/>
<line x1="89.51" y1="1933.34" x2="611.59" y2="1411.26" stroke="#999" stroke-width="1.7"/>
<path d="M108.85 1914 L130.82 1914 L130.82 1865.66 L152.8 1865.66 L152.8 1817.32 L174.77 1817.32 L174.77 1672.3 L218.71 1672.3 L218.71 1575.62 L240.69 1575.62 L240.69 1430.6 L592.25 1430.6 L592.25 1914Z" fill="none" stroke="#000" stroke-width="2.4" stroke-linejoin="round"/>
<path d="M108.85 1914 L130.82 1914 L130.82 1865.66 L152.8 1865.66 L152.8 1817.32 L174.77 1817.32 L174.77 1672.3 L218.71 1672.3 L218.71 1575.62 L240.69 1575.62 L240.69 1430.6 L592.25 1430.6" fill="none" stroke="#000074" stroke-width="2.9" stroke-linejoin="round"/>
<rect x="78.01" y="1411.26" width="545.08" height="522.07" fill="none" stroke="#000" stroke-width="2.4" stroke-linejoin="round"/>
<path d="M108.85 1933.34V1944.4M78.01 1914H67.45M205.53 1933.34V1944.4M78.01 1817.32H67.45M302.21 1933.34V1944.4M78.01 1720.64H67.45M398.89 1933.34V1944.4M78.01 1623.96H67.45M495.57 1933.34V1944.4M78.01 1527.28H67.45M592.25 1933.34V1944.4M78.01 1430.6H67.45" stroke="#000" stroke-width="2.4" fill="none" stroke-linecap="round"/>
<text x="108.85" y="1976.9" font-size="19.3" text-anchor="middle">0.0</text>
<text transform="translate(53.5 1914) rotate(-90)" font-size="19.3" text-anchor="middle">0.0</text>
<text x="205.53" y="1976.9" font-size="19.3" text-anchor="middle">0.2</text>
<text transform="translate(53.5 1817.32) rotate(-90)" font-size="19.3" text-anchor="middle">0.2</text>
<text x="302.21" y="1976.9" font-size="19.3" text-anchor="middle">0.4</text>
<text transform="translate(53.5 1720.64) rotate(-90)" font-size="19.3" text-anchor="middle">0.4</text>
<text x="398.89" y="1976.9" font-size="19.3" text-anchor="middle">0.6</text>
<text transform="translate(53.5 1623.96) rotate(-90)" font-size="19.3" text-anchor="middle">0.6</text>
<text x="495.57" y="1976.9" font-size="19.3" text-anchor="middle">0.8</text>
<text transform="translate(53.5 1527.28) rotate(-90)" font-size="19.3" text-anchor="middle">0.8</text>
<text x="592.25" y="1976.9" font-size="19.3" text-anchor="middle">1.0</text>
<text transform="translate(53.5 1430.6) rotate(-90)" font-size="19.3" text-anchor="middle">1.0</text>
<text x="350.55" y="2011.5" font-size="19.3" text-anchor="middle">False positive rate</text>
<text transform="translate(19.1 1672.3) rotate(-90)" font-size="19.3" text-anchor="middle">True positive rate</text>
<text transform="translate(350.55 1395.1) scale(1 0.93)" font-size="23.4" font-weight="bold" text-anchor="middle" style="stroke-width:0">Methyl jasmonate</text>
<text class="h" x="350.55" y="1686" font-size="19.3" fill="#000080">AUC: 0.823</text>
<text class="n" x="350.55" y="1686" font-size="19.3">AUC: 0.823</text>
<text class="h" x="350.55" y="1708.8" font-size="19.3" fill="#000080">(0.661-0.955)</text>
<text class="n" x="350.55" y="1708.8" font-size="19.3">(0.661-0.955)</text>
<circle cx="240.69" cy="1430.6" r="5.6" fill="#f00"/>
<text class="h" x="246.69" y="1448" font-size="19.3">6.59(0.7, 1)</text>
<text x="246.69" y="1448" font-size="19.3">6.59(0.7, 1)</text>
</g>
<g>
<path d="M795.85 1411.26V1933.34M765.01 1914H1310.09M844.19 1411.26V1933.34M765.01 1865.66H1310.09M892.53 1411.26V1933.34M765.01 1817.32H1310.09M940.87 1411.26V1933.34M765.01 1768.98H1310.09M989.21 1411.26V1933.34M765.01 1720.64H1310.09M1037.55 1411.26V1933.34M765.01 1672.3H1310.09M1085.89 1411.26V1933.34M765.01 1623.96H1310.09M1134.23 1411.26V1933.34M765.01 1575.62H1310.09M1182.57 1411.26V1933.34M765.01 1527.28H1310.09M1230.91 1411.26V1933.34M765.01 1478.94H1310.09M1279.25 1411.26V1933.34M765.01 1430.6H1310.09" stroke="#dfdfdf" stroke-width="1.9" fill="none"/>
<path d="M795.85 1914 L795.85 1720.64 L817.82 1720.64 L817.82 1672.3 L839.8 1672.3 L839.8 1623.96 L861.77 1623.96 L861.77 1527.28 L927.69 1527.28 L927.69 1430.6 L1279.25 1430.6 L1279.25 1914Z" fill="rgba(0,0,255,0.135)" stroke="none"/>
<path d="M795.85 1914 L795.85 1720.64 L817.82 1720.64 L817.82 1672.3 L839.8 1672.3 L839.8 1623.96 L861.77 1623.96 L861.77 1527.28 L927.69 1527.28 L927.69 1430.6 L1279.25 1430.6 L1279.25 1914Z" fill="none" stroke="#fff" stroke-width="8.5" stroke-linejoin="round"/>
<rect x="765.01" y="1411.26" width="545.08" height="522.07" fill="none" stroke="#fff" stroke-width="7"/>
<line x1="776.51" y1="1933.34" x2="1298.59" y2="1411.26" stroke="#fff" stroke-width="4" opacity="0.6"/>
<line x1="776.51" y1="1933.34" x2="1298.59" y2="1411.26" stroke="#999" stroke-width="1.7"/>
<path d="M795.85 1914 L795.85 1720.64 L817.82 1720.64 L817.82 1672.3 L839.8 1672.3 L839.8 1623.96 L861.77 1623.96 L861.77 1527.28 L927.69 1527.28 L927.69 1430.6 L1279.25 1430.6 L1279.25 1914Z" fill="none" stroke="#000" stroke-width="2.4" stroke-linejoin="round"/>
<path d="M795.85 1914 L795.85 1720.64 L817.82 1720.64 L817.82 1672.3 L839.8 1672.3 L839.8 1623.96 L861.77 1623.96 L861.77 1527.28 L927.69 1527.28 L927.69 1430.6 L1279.25 1430.6" fill="none" stroke="#000074" stroke-width="2.9" stroke-linejoin="round"/>
<rect x="765.01" y="1411.26" width="545.08" height="522.07" fill="none" stroke="#000" stroke-width="2.4" stroke-linejoin="round"/>
<path d="M795.85 1933.34V1944.4M765.01 1914H754.45M892.53 1933.34V1944.4M765.01 1817.32H754.45M989.21 1933.34V1944.4M765.01 1720.64H754.45M1085.89 1933.34V1944.4M765.01 1623.96H754.45M1182.57 1933.34V1944.4M765.01 1527.28H754.45M1279.25 1933.34V1944.4M765.01 1430.6H754.45" stroke="#000" stroke-width="2.4" fill="none" stroke-linecap="round"/>
<text x="795.85" y="1976.9" font-size="19.3" text-anchor="middle">0.0</text>
<text transform="translate(740.5 1914) rotate(-90)" font-size="19.3" text-anchor="middle">0.0</text>
<text x="892.53" y="1976.9" font-size="19.3" text-anchor="middle">0.2</text>
<text transform="translate(740.5 1817.32) rotate(-90)" font-size="19.3" text-anchor="middle">0.2</text>
<text x="989.21" y="1976.9" font-size="19.3" text-anchor="middle">0.4</text>
<text transform="translate(740.5 1720.64) rotate(-90)" font-size="19.3" text-anchor="middle">0.4</text>
<text x="1085.89" y="1976.9" font-size="19.3" text-anchor="middle">0.6</text>
<text transform="translate(740.5 1623.96) rotate(-90)" font-size="19.3" text-anchor="middle">0.6</text>
<text x="1182.57" y="1976.9" font-size="19.3" text-anchor="middle">0.8</text>
<text transform="translate(740.5 1527.28) rotate(-90)" font-size="19.3" text-anchor="middle">0.8</text>
<text x="1279.25" y="1976.9" font-size="19.3" text-anchor="middle">1.0</text>
<text transform="translate(740.5 1430.6) rotate(-90)" font-size="19.3" text-anchor="middle">1.0</text>
<text x="1037.55" y="2011.5" font-size="19.3" text-anchor="middle">False positive rate</text>
<text transform="translate(706.1 1672.3) rotate(-90)" font-size="19.3" text-anchor="middle">True positive rate</text>
<text transform="translate(1037.55 1395.1) scale(1 0.93)" font-size="23.4" font-weight="bold" text-anchor="middle" style="stroke-width:0">Indole-3-acrylic acid</text>
<text class="h" x="1037.55" y="1686" font-size="19.3" fill="#000080">AUC: 0.909</text>
<text class="n" x="1037.55" y="1686" font-size="19.3">AUC: 0.909</text>
<text class="h" x="1037.55" y="1708.8" font-size="19.3" fill="#000080">(0.784-0.989)</text>
<text class="n" x="1037.55" y="1708.8" font-size="19.3">(0.784-0.989)</text>
</g>
<g>
<path d="M1482.85 1411.26V1933.34M1452.01 1914H1997.09M1531.19 1411.26V1933.34M1452.01 1865.66H1997.09M1579.53 1411.26V1933.34M1452.01 1817.32H1997.09M1627.87 1411.26V1933.34M1452.01 1768.98H1997.09M1676.21 1411.26V1933.34M1452.01 1720.64H1997.09M1724.55 1411.26V1933.34M1452.01 1672.3H1997.09M1772.89 1411.26V1933.34M1452.01 1623.96H1997.09M1821.23 1411.26V1933.34M1452.01 1575.62H1997.09M1869.57 1411.26V1933.34M1452.01 1527.28H1997.09M1917.91 1411.26V1933.34M1452.01 1478.94H1997.09M1966.25 1411.26V1933.34M1452.01 1430.6H1997.09" stroke="#dfdfdf" stroke-width="1.9" fill="none"/>
<path d="M1482.85 1914 L1504.82 1914 L1504.82 1865.66 L1526.8 1865.66 L1526.8 1623.96 L1548.77 1623.96 L1548.77 1527.28 L1658.63 1527.28 L1658.63 1430.6 L1966.25 1430.6 L1966.25 1914Z" fill="rgba(0,0,255,0.135)" stroke="none"/>
<path d="M1482.85 1914 L1504.82 1914 L1504.82 1865.66 L1526.8 1865.66 L1526.8 1623.96 L1548.77 1623.96 L1548.77 1527.28 L1658.63 1527.28 L1658.63 1430.6 L1966.25 1430.6 L1966.25 1914Z" fill="none" stroke="#fff" stroke-width="8.5" stroke-linejoin="round"/>
<rect x="1452.01" y="1411.26" width="545.08" height="522.07" fill="none" stroke="#fff" stroke-width="7"/>
<line x1="1463.51" y1="1933.34" x2="1985.59" y2="1411.26" stroke="#fff" stroke-width="4" opacity="0.6"/>
<line x1="1463.51" y1="1933.34" x2="1985.59" y2="1411.26" stroke="#999" stroke-width="1.7"/>
<path d="M1482.85 1914 L1504.82 1914 L1504.82 1865.66 L1526.8 1865.66 L1526.8 1623.96 L1548.77 1623.96 L1548.77 1527.28 L1658.63 1527.28 L1658.63 1430.6 L1966.25 1430.6 L1966.25 1914Z" fill="none" stroke="#000" stroke-width="2.4" stroke-linejoin="round"/>
<path d="M1482.85 1914 L1504.82 1914 L1504.82 1865.66 L1526.8 1865.66 L1526.8 1623.96 L1548.77 1623.96 L1548.77 1527.28 L1658.63 1527.28 L1658.63 1430.6 L1966.25 1430.6" fill="none" stroke="#000074" stroke-width="2.9" stroke-linejoin="round"/>
<rect x="1452.01" y="1411.26" width="545.08" height="522.07" fill="none" stroke="#000" stroke-width="2.4" stroke-linejoin="round"/>
<path d="M1482.85 1933.34V1944.4M1452.01 1914H1441.45M1579.53 1933.34V1944.4M1452.01 1817.32H1441.45M1676.21 1933.34V1944.4M1452.01 1720.64H1441.45M1772.89 1933.34V1944.4M1452.01 1623.96H1441.45M1869.57 1933.34V1944.4M1452.01 1527.28H1441.45M1966.25 1933.34V1944.4M1452.01 1430.6H1441.45" stroke="#000" stroke-width="2.4" fill="none" stroke-linecap="round"/>
<text x="1482.85" y="1976.9" font-size="19.3" text-anchor="middle">0.0</text>
<text transform="translate(1427.5 1914) rotate(-90)" font-size="19.3" text-anchor="middle">0.0</text>
<text x="1579.53" y="1976.9" font-size="19.3" text-anchor="middle">0.2</text>
<text transform="translate(1427.5 1817.32) rotate(-90)" font-size="19.3" text-anchor="middle">0.2</text>
<text x="1676.21" y="1976.9" font-size="19.3" text-anchor="middle">0.4</text>
<text transform="translate(1427.5 1720.64) rotate(-90)" font-size="19.3" text-anchor="middle">0.4</text>
<text x="1772.89" y="1976.9" font-size="19.3" text-anchor="middle">0.6</text>
<text transform="translate(1427.5 1623.96) rotate(-90)" font-size="19.3" text-anchor="middle">0.6</text>
<text x="1869.57" y="1976.9" font-size="19.3" text-anchor="middle">0.8</text>
<text transform="translate(1427.5 1527.28) rotate(-90)" font-size="19.3" text-anchor="middle">0.8</text>
<text x="1966.25" y="1976.9" font-size="19.3" text-anchor="middle">1.0</text>
<text transform="translate(1427.5 1430.6) rotate(-90)" font-size="19.3" text-anchor="middle">1.0</text>
<text x="1724.55" y="2011.5" font-size="19.3" text-anchor="middle">False positive rate</text>
<text transform="translate(1393.1 1672.3) rotate(-90)" font-size="19.3" text-anchor="middle">True positive rate</text>
<text transform="translate(1724.55 1395.1) scale(1 0.93)" font-size="23.4" font-weight="bold" text-anchor="middle" style="stroke-width:0">L-tryptophan</text>
<text class="h" x="1724.55" y="1686" font-size="19.3" fill="#000080">AUC: 0.859</text>
<text class="n" x="1724.55" y="1686" font-size="19.3">AUC: 0.859</text>
<text class="h" x="1724.55" y="1708.8" font-size="19.3" fill="#000080">(0.698-0.975)</text>
<text class="n" x="1724.55" y="1708.8" font-size="19.3">(0.698-0.975)</text>
<circle cx="1548.77" cy="1527.28" r="5.6" fill="#f00"/>
<text class="h" x="1554.77" y="1544.68" font-size="19.3">7.6(0.9, 0.8)</text>
<text x="1554.77" y="1544.68" font-size="19.3">7.6(0.9, 0.8)</text>
</g>
</svg></body></html>
